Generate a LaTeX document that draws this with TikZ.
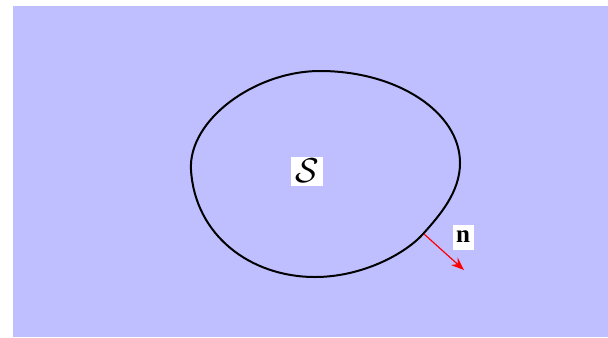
\documentclass[tikz,border=0pt]{standalone}
\usepackage{fontspec}
\newfontfamily\labelserif{Liberation Serif}
\usetikzlibrary{arrows.meta}
\begin{document}
\begin{tikzpicture}[x=0.5pt,y=-0.5pt,
  bg/.style={fill=blue!25,draw=none},
  boundary/.style={line width=1pt,black},
  lbl/.style={fill=white,inner sep=0pt},
  normal/.style={red,line width=0.6pt,-{Stealth[length=6.5pt,width=5pt]}}]
\useasboundingbox (0,0) rectangle (608,337);
\fill[bg] (13,6) rectangle (608,337);
\draw[boundary] (320,71) .. controls (397,71) and (460,112) .. (460,163)
  .. controls (460,192) and (440,215) .. (423,234)
  .. controls (405,254) and (362,277) .. (315,277)
  .. controls (250,277) and (195,235) .. (191,170)
  .. controls (188,120) and (255,71) .. (320,71) -- cycle;
\node[lbl,minimum width=16pt,minimum height=14.5pt,font=\fontsize{16.5}{18}\selectfont] (S) at (307,171) {$\mathcal{S}$};
\coordinate (p) at (424,234);
\coordinate (q) at (464,270);
\draw[normal] (p) -- (q);
\node[lbl,minimum width=10.5pt,minimum height=12.5pt,font=\labelserif\bfseries\fontsize{12.5}{14}\selectfont] (n) at (463,237) {n};
\end{tikzpicture}
\end{document}
